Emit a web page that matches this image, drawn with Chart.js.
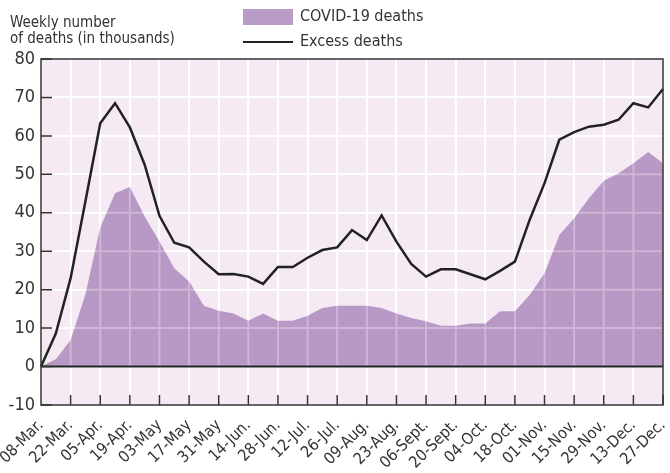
<!DOCTYPE html>
<html>
<head>
<meta charset="utf-8">
<script src="https://cdn.jsdelivr.net/npm/chart.js@4/dist/chart.umd.min.js"></script>
<style>
  body { margin: 0; background: #fff; }
  #wrap { position: relative; width: 670px; height: 473px; font-family: "Liberation Sans Narrow", "DejaVu Sans Condensed", "Roboto", sans-serif; color: #333; }
  canvas { position: absolute; left: 0; top: 0; }
  .ytitle { position: absolute; left: 10px; top: 14px; font-size: 15px; line-height: 16px; }
  .leg { position: absolute; left: 243px; font-size: 16px; line-height: 18px; }
  .leg span { display: inline-block; vertical-align: middle; margin-right: 7px; }
  .box { width: 50px; height: 16px; background: #b99bc7; }
  .ln { width: 50px; height: 2px; background: #222; }
</style>
</head>
<body>
<div id="wrap">
  <canvas id="chart" width="670" height="473"></canvas>
  <div class="ytitle">Weekly number<br>of deaths (in thousands)</div>
  <div class="leg" style="top:7px"><span class="box"></span>COVID-19 deaths</div>
  <div class="leg" style="top:32px"><span class="ln"></span>Excess deaths</div>
</div>
<script>
const weeks = [
  "08-Mar.", "15-Mar.", "22-Mar.", "29-Mar.", "05-Apr.", "12-Apr.", "19-Apr.", "26-Apr.",
  "03-May", "10-May", "17-May", "24-May", "31-May", "07-Jun.", "14-Jun.", "21-Jun.",
  "28-Jun.", "05-Jul.", "12-Jul.", "19-Jul.", "26-Jul.", "02-Aug.", "09-Aug.", "16-Aug.",
  "23-Aug.", "30-Aug.", "06-Sept.", "13-Sept.", "20-Sept.", "27-Sept.", "04-Oct.", "11-Oct.",
  "18-Oct.", "25-Oct.", "01-Nov.", "08-Nov.", "15-Nov.", "22-Nov.", "29-Nov.", "06-Dec.",
  "13-Dec.", "20-Dec.", "27-Dec."
];

const covidDeaths = [
  0, 1.9, 6.9, 18.8, 36.2, 45.1, 46.7, 39.0, 32.5, 25.6, 22.1, 15.8, 14.5, 13.8, 11.9, 13.8,
  11.9, 11.9, 13.2, 15.2, 15.8, 15.8, 15.8, 15.2, 13.8, 12.6, 11.8, 10.6, 10.6, 11.2, 11.2, 14.4,
  14.4, 18.6, 24.3, 34.2, 38.6, 43.8, 48.3, 50.3, 52.9, 55.8, 52.9
];

const excessDeaths = [
  0, 8.6, 23.0, 43.0, 63.3, 68.5, 62.2, 52.5, 39.2, 32.2, 31.0, 27.3, 24.0, 24.1, 23.4, 21.5,
  25.9, 25.9, 28.3, 30.3, 31.0, 35.5, 32.9, 39.3, 32.5, 26.7, 23.4, 25.3, 25.3, 24.0, 22.7, 24.9,
  27.3, 38.2, 47.7, 59.0, 61.0, 62.4, 62.9, 64.2, 68.5, 67.4, 72.2
];

const FONT = '"Liberation Sans Narrow", "DejaVu Sans Condensed", "Roboto", sans-serif';

// plot background + grid lines over the fill + frame and inner ticks
const decor = {
  id: "decor",
  beforeDraw(chart) {
    const a = chart.chartArea, c = chart.ctx;
    c.save();
    c.fillStyle = "#f5eaf4";
    c.fillRect(a.left, a.top, a.right - a.left, a.bottom - a.top);
    c.restore();
  },
  afterDatasetDraw(chart, args) {
    if (args.index !== 0) return;
    const a = chart.chartArea, c = chart.ctx;
    const x = chart.scales.x, y = chart.scales.y;
    c.save();
    c.strokeStyle = "rgba(255,255,255,0.3)";
    c.lineWidth = 2;
    c.beginPath();
    y.ticks.forEach((t) => {
      const py = y.getPixelForValue(t.value);
      c.moveTo(a.left, py); c.lineTo(a.right, py);
    });
    for (let i = 0; i < weeks.length; i += 2) {
      const px = x.getPixelForValue(i);
      c.moveTo(px, a.top); c.lineTo(px, a.bottom);
    }
    c.stroke();
    c.strokeStyle = "#222";
    c.lineWidth = 2;
    c.beginPath();
    const z = y.getPixelForValue(0);
    c.moveTo(a.left, z); c.lineTo(a.right, z);
    c.stroke();
    c.restore();
  },
  afterDraw(chart) {
    const a = chart.chartArea, c = chart.ctx;
    const x = chart.scales.x, y = chart.scales.y;
    c.save();
    c.strokeStyle = "#333";
    c.lineWidth = 1.5;
    c.beginPath();
    y.ticks.forEach((t) => {
      const py = y.getPixelForValue(t.value);
      c.moveTo(a.left, py); c.lineTo(a.left + 11, py);
    });
    for (let i = 2; i < weeks.length; i += 2) {
      const px = x.getPixelForValue(i);
      c.moveTo(px, a.bottom); c.lineTo(px, a.bottom - 10);
    }
    c.stroke();
    c.strokeRect(a.left, a.top, a.right - a.left, a.bottom - a.top);
    c.restore();
  }
};

new Chart(document.getElementById("chart"), {
  type: "line",
  data: {
    labels: weeks,
    datasets: [
      {
        label: "COVID-19 deaths",
        data: covidDeaths,
        backgroundColor: "#b898c5",
        borderWidth: 0,
        pointRadius: 0,
        fill: "origin",
        order: 1
      },
      {
        label: "Excess deaths",
        data: excessDeaths,
        borderColor: "#222",
        borderWidth: 2.5,
        pointRadius: 0,
        fill: false,
        order: 0
      }
    ]
  },
  options: {
    responsive: false,
    animation: false,
    layout: { padding: { top: 59, right: 7, left: 0, bottom: 0 } },
    plugins: { legend: { display: false }, tooltip: { enabled: false } },
    scales: {
      x: {
        afterFit: (s) => { s.height = 68; s.paddingLeft = 0; s.paddingRight = 0; },
        grid: {
          color: (ctx) => (ctx.index % 2 === 0 ? "#fff" : "rgba(0,0,0,0)"),
          lineWidth: 2,
          drawTicks: false
        },
        border: { display: false },
        ticks: {
          autoSkip: false,
          maxRotation: 45,
          minRotation: 45,
          padding: 11,
          color: "#333",
          font: { family: FONT, size: 16 },
          callback: function (v, i) { return i % 2 === 0 ? this.getLabelForValue(v) : ""; }
        }
      },
      y: {
        min: -10,
        max: 80,
        afterFit: (s) => { s.width = 41; s.paddingTop = 0; s.paddingBottom = 0; },
        grid: { color: "#fff", lineWidth: 2, drawTicks: false },
        border: { display: false },
        ticks: {
          stepSize: 10,
          padding: 6,
          color: "#333",
          font: { family: FONT, size: 18 }
        }
      }
    }
  },
  plugins: [decor]
});
</script>
</body>
</html>
